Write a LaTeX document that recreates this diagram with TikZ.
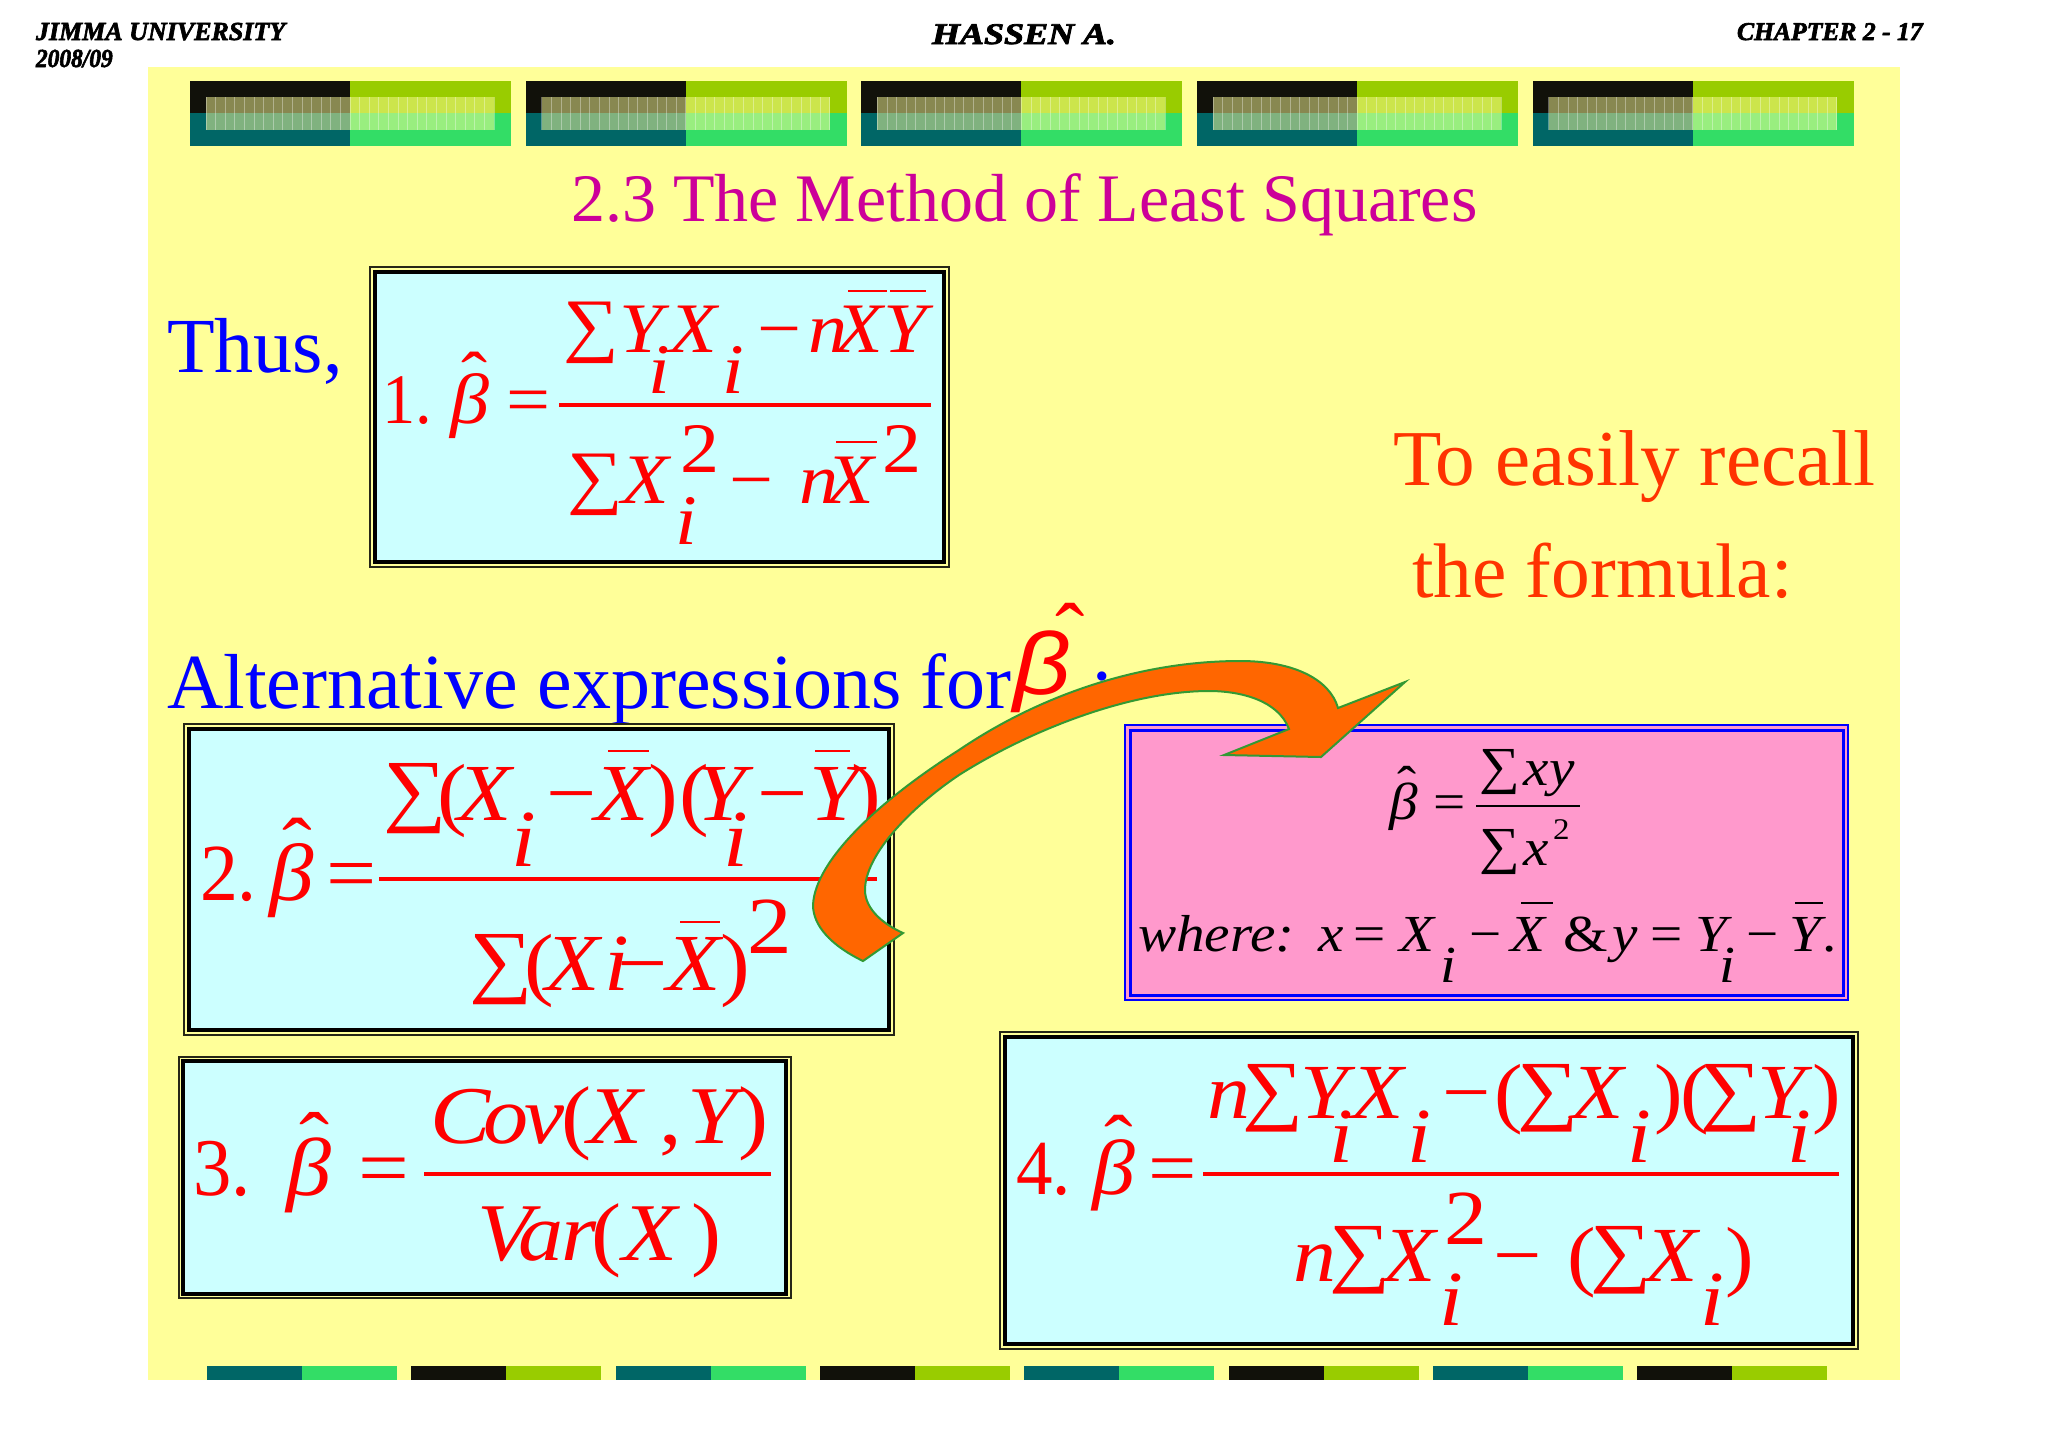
\documentclass[tikz,border=0pt]{standalone}
\usepackage{fontspec}
\setmainfont{Liberation Serif}[BoldItalicFeatures={FakeBold=2.5}]
\newfontfamily\sansfont{Liberation Sans}
\definecolor{slidebg}{HTML}{FFFF99}
\definecolor{boxcyan}{HTML}{CCFFFF}
\definecolor{boxpink}{HTML}{FF99CC}
\definecolor{tileblack}{HTML}{11110A}
\definecolor{tilelime}{HTML}{99CC00}
\definecolor{tileteal}{HTML}{006666}
\definecolor{tilegreen}{HTML}{33DD66}
\definecolor{titlepink}{HTML}{CC0099}
\definecolor{recallred}{HTML}{FF3300}
\definecolor{arroworange}{HTML}{FF6600}
\definecolor{arrowgreen}{HTML}{339933}
\newcommand\var{\itshape}
\newcommand\bhat{\textit{β}\kern-0.35em\raisebox{0.31em}{ˆ}\kern0.1em}
\newcommand\Sg{\raisebox{0.2em}{∑}}
\newcommand\nar[1]{\scalebox{0.85}[1]{#1}}
\newcommand\Fs[1]{\fontsize{#1}{#1}\selectfont}
% one list of x/y/glyph for each formula
\newcommand\glyphs[3]{\foreach[count=\n] \x/\y/\txt in {#3} {\node[eq] (#1\n) at (\x-3,\y) {\scalebox{1.1}[1]{\Fs{#2}\txt}};}}
\tikzset{
	eq/.style={anchor=base west, inner sep=0pt, outer sep=0pt, text=red},
	label/.style={anchor=base west, inner sep=0pt, outer sep=0pt},
	fracbar/.style={red, line width=1.6pt},
	overbar/.style={red, line width=1.2pt},
	thinframe/.style={draw=black!85!slidebg, line width=0.8pt},
	thickframe/.style={draw=black, fill=boxcyan, line width=2.2pt}
}
\begin{document}
\begin{tikzpicture}[x=0.5pt, y=-0.5pt]
	\useasboundingbox (0,0) rectangle (2048,1447);
	\fill[white] (0,0) rectangle (2048,1447);
	\fill[slidebg] (148,67) rectangle (1900,1380);
	
	% header
	\node[label, font=\bfseries\itshape\Fs{13}] (school) at (36,40) {JIMMA UNIVERSITY};
	\node[label, font=\bfseries\itshape\Fs{13}] (year) at (36,67) {\scalebox{0.9}[1]{2008/09}};
	\node[label, font=\bfseries\itshape\Fs{15}] (teacher) at (932,44) {\scalebox{1.2}[1]{HASSEN A.}};
	\node[label, font=\bfseries\itshape\Fs{12.8}] (chapter) at (1737,40) {CHAPTER 2 - 17};
	
	% top tiles
	\foreach \x in {190, 525.7, 861.4, 1197.1, 1532.8} {
		\begin{scope}[shift={(\x,81)}]
			\fill[tileblack] (0,0) rectangle (160,32);
			\fill[tilelime] (160,0) rectangle (321,32);
			\fill[tileteal] (0,32) rectangle (160,65);
			\fill[tilegreen] (160,32) rectangle (321,65);
			\fill[slidebg, opacity=0.5] (16,16) rectangle (304,49);
			\begin{scope}[shift={(16,16)}]
				\draw[white, opacity=0.35, line width=0.4pt] (0,0) grid [xstep=9.6, ystep=8.25] (288,33);
			\end{scope}
		\end{scope}
	}
	
	% bottom tiles
	\foreach \i in {0,...,7} {
		\pgfmathsetmacro{\x}{207+204.3*\i}
		\pgfmathtruncatemacro{\odd}{mod(\i,2)}
		\ifnum\odd=0
			\fill[tileteal] (\x,1366) rectangle ++(95,14);
			\fill[tilegreen] (\x+95,1366) rectangle ++(95,14);
		\else
			\fill[tileblack] (\x,1366) rectangle ++(95,14);
			\fill[tilelime] (\x+95,1366) rectangle ++(95,14);
		\fi
	}
	
	% texts
	\node[label, text=titlepink, font=\Fs{34}] (title) at (571,221) {2.3 The Method of Least Squares};
	\node[label, text=blue, font=\Fs{39}] (thus) at (167,372) {Thus,};
	\node[label, text=blue, font=\Fs{39}] (alt) at (167,708) {Alternative expressions for};
	\node[label, text=blue, font=\Fs{39}] (colon) at (1091,708) {:};
	\node[label, text=red, font=\sansfont\itshape\Fs{44}] (bigbeta) at (1013,694) {\scalebox{1.15}[1]{β}};
	\node[label, text=red, font=\Fs{44}] (bighat) at (1055,664) {ˆ};
	\node[label, text=recallred, font=\Fs{39.6}] (recalla) at (1393,485) {To easily recall};
	\node[label, text=recallred, font=\Fs{38.7}] (recallb) at (1412,597) {the formula:};
	
	% formula 1
	\draw[thinframe] (370,267) rectangle (949,567);
	\draw[thickframe] (375,272) rectangle (944,562);
	\glyphs{a}{35.5}{385/423/\nar{1.}, 453/423/\bhat, 509/423/=,
		566/363/\Sg, 622/352/\var Y, 651/393/\var i, 672/352/\var X, 725/393/\var i, 760/352/−, 811/352/\var n, 838/352/\var X, 886/352/\var Y,
		570/515/\Sg, 624/503/\var X, 683/472/2, 678/544/\var i, 732/503/−, 802/503/\var n, 829/503/\var X, 885/472/2}
	\draw[fracbar] (559,405) -- (931,405);
	\foreach \a/\b/\y in {848/887/291, 890/926/291, 836/877/442} {
		\draw[overbar] (\a,\y) -- (\b,\y);
	}
	
	% formula 2
	\draw[thinframe] (184,724) rectangle (894,1035);
	\draw[thickframe] (189,729) rectangle (889,1030);
	\glyphs{b}{40.5}{203/900/\nar{2.}, 272/900/\bhat, 329/900/=,
		386/833/\Sg, 440/820/(, 460/820/\var X, 514/866/\var i, 549/820/−, 597/820/\var X, 651/820/), 682/820/(, 699/820/\var Y, 726/866/\var i, 760/820/−, 812/820/\var Y, 854/820/),
		472/1004/\Sg, 527/990/(, 548/990/\var X, 607/990/\var i, 620/990/−, 669/990/\var X, 723/990/), 750/953/2}
	\draw[fracbar] (379,879) -- (877,879);
	\foreach \a/\b/\y in {608/649/751, 815/850/751, 680/720/922} {
		\draw[overbar] (\a,\y) -- (\b,\y);
	}
	
	% formula 3
	\draw[thinframe] (179,1057) rectangle (791,1298);
	\draw[thickframe] (183,1061) rectangle (786,1294);
	\glyphs{c}{41}{196/1195/\nar{3.}, 289/1195/\bhat, 361/1195/=,
		433/1143/\var C, 486/1143/\var o, 527/1143/\var v, 564/1143/(, 590/1143/\var X, 662/1143/{,}, 690/1143/\var Y, 741/1143/),
		480/1260/\var V, 521/1260/\var a, 564/1260/\var r, 594/1260/(, 625/1260/\var X, 694/1260/)}
	\draw[fracbar] (424,1174) -- (771,1174);
	
	% formula 4
	\draw[thinframe] (1000,1032) rectangle (1858,1349);
	\draw[thickframe] (1005,1037) rectangle (1853,1344);
	\glyphs{d}{39}{1019/1194/\nar{4.}, 1095/1194/\bhat, 1151/1194/=,
		1210/1118/\var n, 1245/1131/\Sg, 1303/1118/\var Y, 1332/1162/\var i, 1354/1118/\var X, 1410/1162/\var i, 1445/1118/−, 1497/1118/(, 1520/1131/\Sg, 1574/1118/\var X, 1630/1162/\var i, 1657/1118/), 1683/1118/(, 1703/1131/\Sg, 1760/1118/\var Y, 1790/1162/\var i, 1815/1118/),
		1296/1281/\var n, 1332/1293/\Sg, 1386/1281/\var X, 1447/1244/2, 1442/1325/\var i, 1496/1281/−, 1570/1281/(, 1593/1293/\Sg, 1648/1281/\var X, 1703/1325/\var i, 1728/1281/)}
	\draw[fracbar] (1203,1174) -- (1839,1174);
	
	% pink box
	\draw[blue, fill=boxpink, line width=1.3pt] (1125,725) rectangle (1848,1000);
	\draw[blue, line width=1.5pt] (1130,730) rectangle (1843,995);
	\begin{scope}[eq/.append style={text=black}, fracbar/.append style={black, line width=1.1pt}, overbar/.append style={black, line width=0.9pt}]
		\glyphs{e}{26}{1392/819/\bhat, 1436/819/=,
			1482/794/\Sg, 1526/785/\var x, 1552/785/\var y,
			1482/874/\Sg, 1526/865/\var x, 1556/839/\Fs{15}2,
			1141/951/\var where:, 1321/951/\var x, 1356/951/=, 1402/951/\var X, 1443/982/\var i, 1472/951/−, 1513/951/\var X, 1566/951/\&, 1615/951/\var y, 1653/951/=, 1698/951/\var Y, 1722/982/\var i, 1749/951/−, 1792/951/\var Y, 1825/951/.}
		\draw[fracbar] (1476,806) -- (1580,806);
		\draw[overbar] (1521,903) -- (1553,903);
		\draw[overbar] (1795,903) -- (1823,903);
	\end{scope}
	
	% arrow
	\draw[fill=arroworange, draw=arrowgreen, line width=1pt, line join=miter]
		(863,961) .. controls (830,945) and (813,925) .. (813,905)
		.. controls (815,860) and (880,800) .. (959,750)
		.. controls (1040,695) and (1140,661) .. (1240,661)
		.. controls (1295,661) and (1330,680) .. (1338,708)
		-- (1405,682) -- (1321,757) -- (1224,755) -- (1289,729)
		.. controls (1278,700) and (1240,691) .. (1209,691)
		.. controls (1130,691) and (1030,730) .. (959,775)
		.. controls (910,808) and (865,855) .. (865,890)
		.. controls (865,910) and (885,925) .. (903,933)
		-- cycle;
\end{tikzpicture}
\end{document}
